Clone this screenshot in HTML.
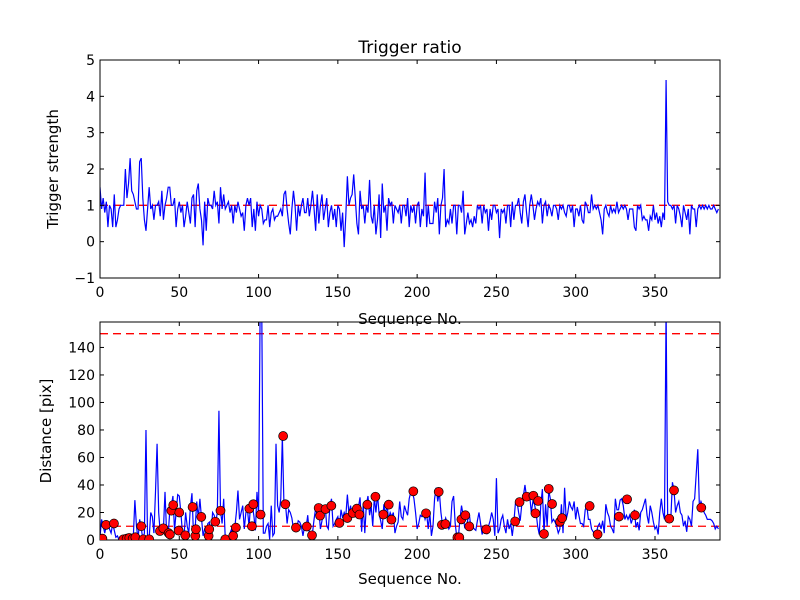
<!DOCTYPE html>
<html><head><meta charset="utf-8"><style>
body{margin:0;background:#fff}
svg{display:block;font-family:"DejaVu Sans","Liberation Sans",sans-serif}
</style></head><body>
<svg id="chart" width="800" height="600" viewBox="0 0 800 600" xmlns="http://www.w3.org/2000/svg">
<rect width="800" height="600" fill="#fff"/>
<text x="410" y="53" font-size="17" text-anchor="middle">Trigger ratio</text>
</svg>
<script>
const strength = [
1.5,0.9,1.2,0.8,1.1,0.4,1.0,0.9,0.4,1.3,
0.4,0.6,0.9,1.0,1.0,1.0,2.0,1.2,1.6,2.3,
1.4,1.3,1.1,0.9,0.9,2.2,2.3,1.2,0.6,0.3,
0.9,1.5,0.9,1.0,0.6,1.0,1.0,1.1,0.7,1.4,
0.6,1.0,1.2,1.5,1.5,1.0,1.0,1.2,0.4,0.9,
1.1,0.8,1.0,0.4,0.7,1.1,0.8,0.5,1.2,1.3,
0.4,1.4,1.6,0.9,0.6,-0.1,1.1,0.3,1.2,1.0,
1.0,0.9,1.4,1.0,1.1,0.5,1.5,0.9,1.3,0.9,
1.0,1.1,0.8,1.0,0.5,1.0,0.8,1.1,0.9,0.7,
0.8,0.3,1.0,1.2,1.0,1.2,0.4,0.9,0.3,1.1,
0.7,1.0,0.9,0.5,0.6,0.6,1.0,0.4,0.8,0.9,
0.6,0.7,0.7,0.8,0.9,0.7,1.3,1.4,0.9,0.5,
0.2,0.9,1.4,1.0,0.3,1.0,0.7,1.0,1.2,0.8,
0.8,1.2,0.7,1.0,1.4,0.9,0.3,1.3,0.5,1.0,
1.3,0.6,0.9,1.2,0.4,0.8,1.0,0.6,0.9,0.4,
1.0,0.9,0.3,0.8,-0.15,0.7,1.8,1.0,1.2,1.3,
1.85,1.2,0.5,0.2,1.4,0.9,1.0,0.5,1.0,0.8,
1.7,0.7,0.5,1.0,0.2,0.6,1.3,0.1,1.6,0.8,
1.0,0.3,1.2,1.0,1.1,0.5,1.0,0.9,0.8,1.0,
0.5,1.0,1.0,0.7,1.2,0.4,1.0,0.8,1.0,0.5,
1.0,1.1,0.4,0.9,0.7,1.9,0.4,1.0,0.5,0.5,
0.5,1.1,0.8,1.2,0.2,1.0,1.2,2.0,0.4,0.6,
0.5,0.9,0.5,1.0,1.0,0.2,1.0,1.0,0.8,1.4,
0.2,0.5,0.8,0.5,0.6,0.4,0.7,0.5,1.0,0.9,
1.0,0.5,1.0,0.8,0.9,0.3,0.9,0.6,1.0,1.0,
0.8,0.9,0.1,0.9,0.8,0.9,0.5,1.0,1.0,0.4,
1.1,0.6,1.0,1.0,1.2,0.8,0.5,1.1,1.3,0.8,
0.4,1.0,1.3,1.0,0.6,0.9,1.1,1.0,1.2,0.5,
1.0,1.1,0.7,1.0,0.9,0.7,1.0,1.0,0.9,0.6,
1.0,0.9,1.0,0.8,0.7,1.0,1.0,0.8,1.0,0.4,
0.9,0.9,0.7,1.0,0.6,0.5,1.1,1.0,0.8,0.8,
1.3,0.9,1.0,0.9,1.0,0.8,0.6,0.2,0.9,1.0,
0.8,0.7,1.0,0.8,0.9,0.8,1.1,0.8,0.9,1.0,
0.9,1.0,0.9,0.6,0.9,0.9,0.9,0.4,0.3,1.0,
0.9,1.0,0.6,0.7,0.6,0.6,0.3,0.7,0.6,1.0,
0.6,0.8,0.5,0.7,0.4,0.8,0.6,4.45,1.1,1.0,
1.0,0.9,1.0,0.5,1.0,0.9,0.7,0.4,1.0,0.8,
0.6,0.9,0.2,1.0,0.9,0.9,0.4,0.9,1.0,0.9,
1.0,0.9,1.0,0.9,1.0,0.9,0.9,1.0,0.9,0.8,0.9];
const distance = [
2,15,10,5,11,12,8,5,12,7,2,3,0,1,2,0.5,1,1.5,1,2,
1,2,29,10,0.5,15,9,0.5,5,80,0.5,1,20,17,5,35,70,20,5,8,
8,35,5,4,21,25,32,7,20,33,32,20,5,3,20,10,5,24,34,3,
8,28,16,30,16,3,8,5,12,13,3,20,18,13,20,94,21,12,30,1,
1,2,5,8,3,9,20,36,15,20,25,8,20,22,10,26,26,18,7,35,
18,170,170,5,5,10,12,0.5,25,3,5,70,25,20,30,75,26,26,12,22,
20,16,8,9,8,14,13,10,3,10,9,18,5,3,5,15,23,18,22,8,
14,22,25,10,8,25,30,10,12,15,17,10,22,16,20,17,33,19,25,18,
19,22,19,24,31,6,26,5,26,32,18,25,10,31,20,33,19,14,8,26,
18,26,15,20,17,20,5,10,13,28,17,15,25,21,18,30,35,35,30,20,
8,12,18,17,20,15,19,8,20,3,10,30,38,28,35,20,11,12,16,12,
8,10,28,32,12,2,2,15,25,18,9,10,15,18,8,10,8,7,14,20,
12,4,8,8,5,10,14,20,15,3,45,5,8,15,18,10,5,15,8,12,
3,13,27,28,20,14,26,32,40,31,33,32,20,28,26,20,10,4,26,37,
5,26,10,36,30,13,15,13,10,5,8,26,5,38,15,20,28,24,22,28,
15,24,18,12,12,10,22,25,15,15,8,6,4,5,10,12,8,14,5,26,
20,17,10,8,5,30,22,22,29,30,25,15,18,15,18,12,16,22,9,13,
7,20,22,26,30,18,12,25,20,13,8,10,4,20,30,20,15,170,15,16,
16,42,36,20,25,28,20,18,10,14,6,17,15,10,28,30,48,66,24,28,
25,20,18,15,15,15,14,12,8,10,8];
const markerX = [1.5,3.8,8.8,14.7,16.8,18.5,20.6,22.3,26,27.3,31,37.8,39.9,43.3,44.1,45,46.2,49.6,50,53.8,58.4,60.1,60.5,63.9,68.5,68.9,72.7,76,79,84,85.7,94.2,95.8,96.7,101.3,115.5,116.9,123.6,130.4,133.7,137.9,138.8,142.2,145.9,151,156,159.4,162,163.6,168.6,173.7,178.7,182.1,183.8,
197.6,205.6,213.6,215.6,217.8,225.4,226.6,227.9,230.4,232.9,243.6,261.8,264.6,269.1,273.3,274.6,276.3,280,283,285.1,290.1,291.4,308.8,313.8,327.3,332.4,337.4,359,362,379.2];
const markerY = [1,11,12,0.5,1,1.5,1,2,10,0.5,0.5,6.5,8.5,5,4,21.3,25.4,6.8,20,3.4,24,3,7.8,16.8,3,7.8,13.3,21.3,0.5,3,9,22.8,10,26,18.5,75.6,26,9,9.8,3.4,23.3,17.7,22.5,24.9,12.4,16,19.6,22.8,18.5,25.7,31.5,18.5,25.7,14.8,
35.4,19.4,35,11,11.6,1.9,1.9,15,18,9.9,7.7,13.5,27.6,31.5,32.2,19.4,28.4,4.4,37.2,26.2,13.3,15.9,24.7,4.1,17,29.6,18,15.5,36.1,23.5];
const xTicks = [0,50,100,150,200,250,300,350];
const topYTicks = [-1,0,1,2,3,4,5];
const botYTicks = [0,20,40,60,80,100,120,140];
const topRef = [1];
const botRef = [10,150];

const NS="http://www.w3.org/2000/svg";
const svg=document.getElementById('chart');
function mk(tag,attrs,parent){const e=document.createElementNS(NS,tag);for(const k in attrs)e.setAttribute(k,attrs[k]);(parent||svg).appendChild(e);return e;}
const L=100,R=720,XMAX=391;
const sx=v=>L+v/XMAX*(R-L);

function panel(name,T,B,ymin,ymax,ticks,series,refs,ylabel){
  const sy=v=>B-(v-ymin)/(ymax-ymin)*(B-T);
  const g=mk('g',{});
  
  
  const cp=mk('clipPath',{id:'clip-'+name},g);
  mk('rect',{x:L,y:T,width:R-L,height:B-T},cp);
  refs.forEach(r=>{
    const l=mk('line',{x1:L,x2:R,y1:sy(r),y2:sy(r),stroke:'#f00','stroke-dasharray':'8,5','stroke-width':1.3,'clip-path':'url(#clip-'+name+')'},g);
    
    
  });
  const d=series.map((v,i)=>(i?'L':'M')+sx(i).toFixed(2)+','+sy(v).toFixed(2)).join('');
  const p=mk('path',{d:d,fill:'none',stroke:'#00f','stroke-width':1.2,'clip-path':'url(#clip-'+name+')'},g);
  
  
  const fr=mk('rect',{x:L,y:T,width:R-L,height:B-T,fill:'none',stroke:'#000','stroke-width':1},g);
  
  
  xTicks.forEach(t=>{
    const x=sx(t);
    mk('line',{x1:x,x2:x,y1:B,y2:B-4,stroke:'#000'},g);
    mk('line',{x1:x,x2:x,y1:T,y2:T+4,stroke:'#000'},g);
    const tx=mk('text',{x:x,y:B+19,'font-size':14,'text-anchor':'middle'},g);
    tx.textContent=t;
    
    
  });
  ticks.forEach(t=>{
    const y=sy(t);
    mk('line',{x1:L,x2:L+4,y1:y,y2:y,stroke:'#000'},g);
    mk('line',{x1:R,x2:R-4,y1:y,y2:y,stroke:'#000'},g);
    const tx=mk('text',{x:L-5,y:y+5,'font-size':14,'text-anchor':'end'},g);
    tx.textContent=(t<0?'\u2212'+(-t):t);
    
    
  });
  const yl=mk('text',{x:0,y:0,'font-size':15,'text-anchor':'middle',transform:`translate(${name==='top'?58:51},${(T+B)/2}) rotate(-90)`},g);
  yl.textContent=ylabel;
  
  
  return {g,sx,sy};
}
const xl1=mk('text',{x:410,y:324,'font-size':15,'text-anchor':'middle'});
xl1.textContent='Sequence No.';


panel('top',60,278,-1,5,topYTicks,strength,topRef,'Trigger strength');
const bot=panel('bottom',322,540,0,158.5,botYTicks,distance,botRef,'Distance [pix]');
markerX.forEach((x,i)=>{
  const c=mk('circle',{cx:sx(x),cy:bot.sy(markerY[i]),r:4.5,fill:'#f00',stroke:'#000','stroke-width':0.7,'clip-path':'url(#clip-bottom)'},bot.g);
  
  
});
const xl2=mk('text',{x:410,y:584,'font-size':15,'text-anchor':'middle'});
xl2.textContent='Sequence No.';


</script>
</body></html>
